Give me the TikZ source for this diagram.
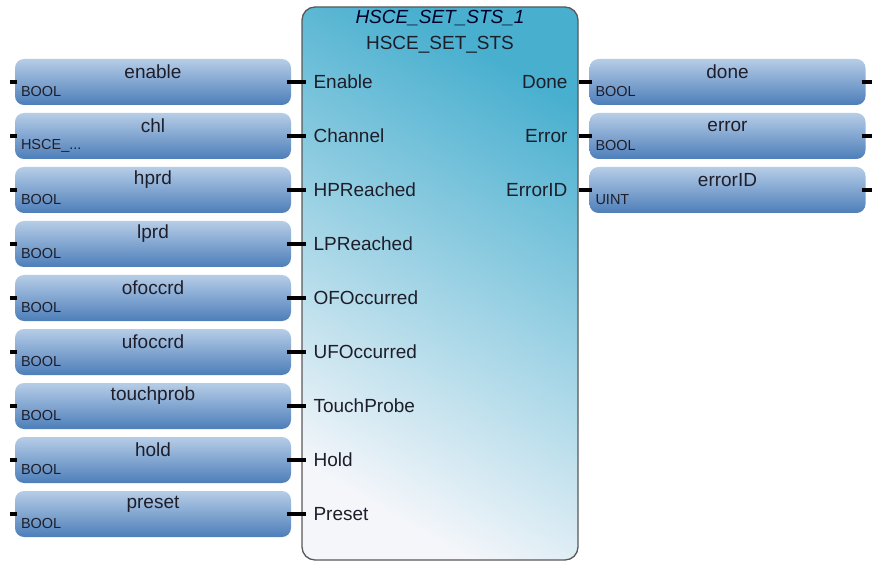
\documentclass[tikz,border=0pt]{standalone}
\usepackage{fontspec}
\setmainfont{Liberation Sans}
\usepackage{xcolor}
\usetikzlibrary{positioning}
\definecolor{varTop}{HTML}{B6CDE7}
\definecolor{varBot}{HTML}{4D7EB9}
\definecolor{fbTeal}{HTML}{48AFCF}
\definecolor{fbMid}{HTML}{BCDCEA}
\definecolor{fbLight}{HTML}{F4F6FA}
\definecolor{txtDark}{HTML}{1E1E2A}
\def\rowH{54}
\def\boxH{46}
\def\boxW{276}
\def\firstY{82}
\newcommand{\chlType}{HSCE\_...}

\begin{document}
\begin{tikzpicture}[
    x=1pt, y=-1pt,
    font=\fontsize{19}{22}\selectfont,
    text=txtDark,
    varbox/.style={rounded corners=9pt, minimum width=\boxW pt, minimum height=\boxH pt,
        top color=varTop, bottom color=varBot, inner sep=0pt},
    fbblock/.style={rounded corners=13pt, draw=black!65, line width=1.3pt,
        minimum width=276pt, minimum height=553pt, inner sep=0pt,
        top color=fbTeal, middle color=fbMid, bottom color=fbLight, shading angle=-30},
    pinwire/.style={line width=4pt, black},
    typelbl/.style={font=\fontsize{14.5}{16}\selectfont, inner sep=0pt, anchor=west}
]
\useasboundingbox (0,0) rectangle (876,564);

% function block
\node[fbblock] (fb) at (440,283.5) {};
\node[font=\fontsize{19}{22}\selectfont\itshape, text=black!75!blue!60!black] (inst) at (440,18) {HSCE\_SET\_STS\_1};
\node[below=7pt of inst, inner sep=0pt] (fbtype) {HSCE\_SET\_STS};

% inputs
\foreach \nm/\ty/\pn [count=\i] in {enable/BOOL/Enable, chl/\chlType/Channel,
    hprd/BOOL/HPReached, lprd/BOOL/LPReached, ofoccrd/BOOL/OFOccurred,
    ufoccrd/BOOL/UFOccurred, touchprob/BOOL/TouchProbe, hold/BOOL/Hold, preset/BOOL/Preset}{
  \node[varbox] (in\i) at (153,{\firstY+\rowH*(\i-1)}) {};
  \node[yshift=10pt] at (in\i.center) {\nm};
  \node[typelbl] at ([xshift=6pt,yshift=-10pt]in\i.west) {\ty};
  \draw[pinwire] ([xshift=-5pt]in\i.west) -- ([xshift=2pt]in\i.west);
  \draw[pinwire] ([xshift=-4pt]in\i.east) -- ([xshift=5pt]fb.west |- in\i.east);
  \node[anchor=west, inner sep=0pt] at ([xshift=12pt]fb.west |- in\i.east) {\pn};
}

% outputs
\foreach \nm/\ty/\pn [count=\i] in {done/BOOL/Done, error/BOOL/Error, errorID/UINT/ErrorID}{
  \node[varbox] (out\i) at (727.5,{\firstY+\rowH*(\i-1)}) {};
  \node[yshift=10pt] at (out\i.center) {\nm};
  \node[typelbl] at ([xshift=6pt,yshift=-10pt]out\i.west) {\ty};
  \draw[pinwire] (fb.east |- out\i.west) -- ([xshift=3pt]out\i.west);
  \draw[pinwire] ([xshift=-4pt]out\i.east) -- ([xshift=6pt]out\i.east);
  \node[anchor=east, inner sep=0pt] at ([xshift=-11pt]fb.east |- out\i.west) {\pn};
}
\end{tikzpicture}
\end{document}
